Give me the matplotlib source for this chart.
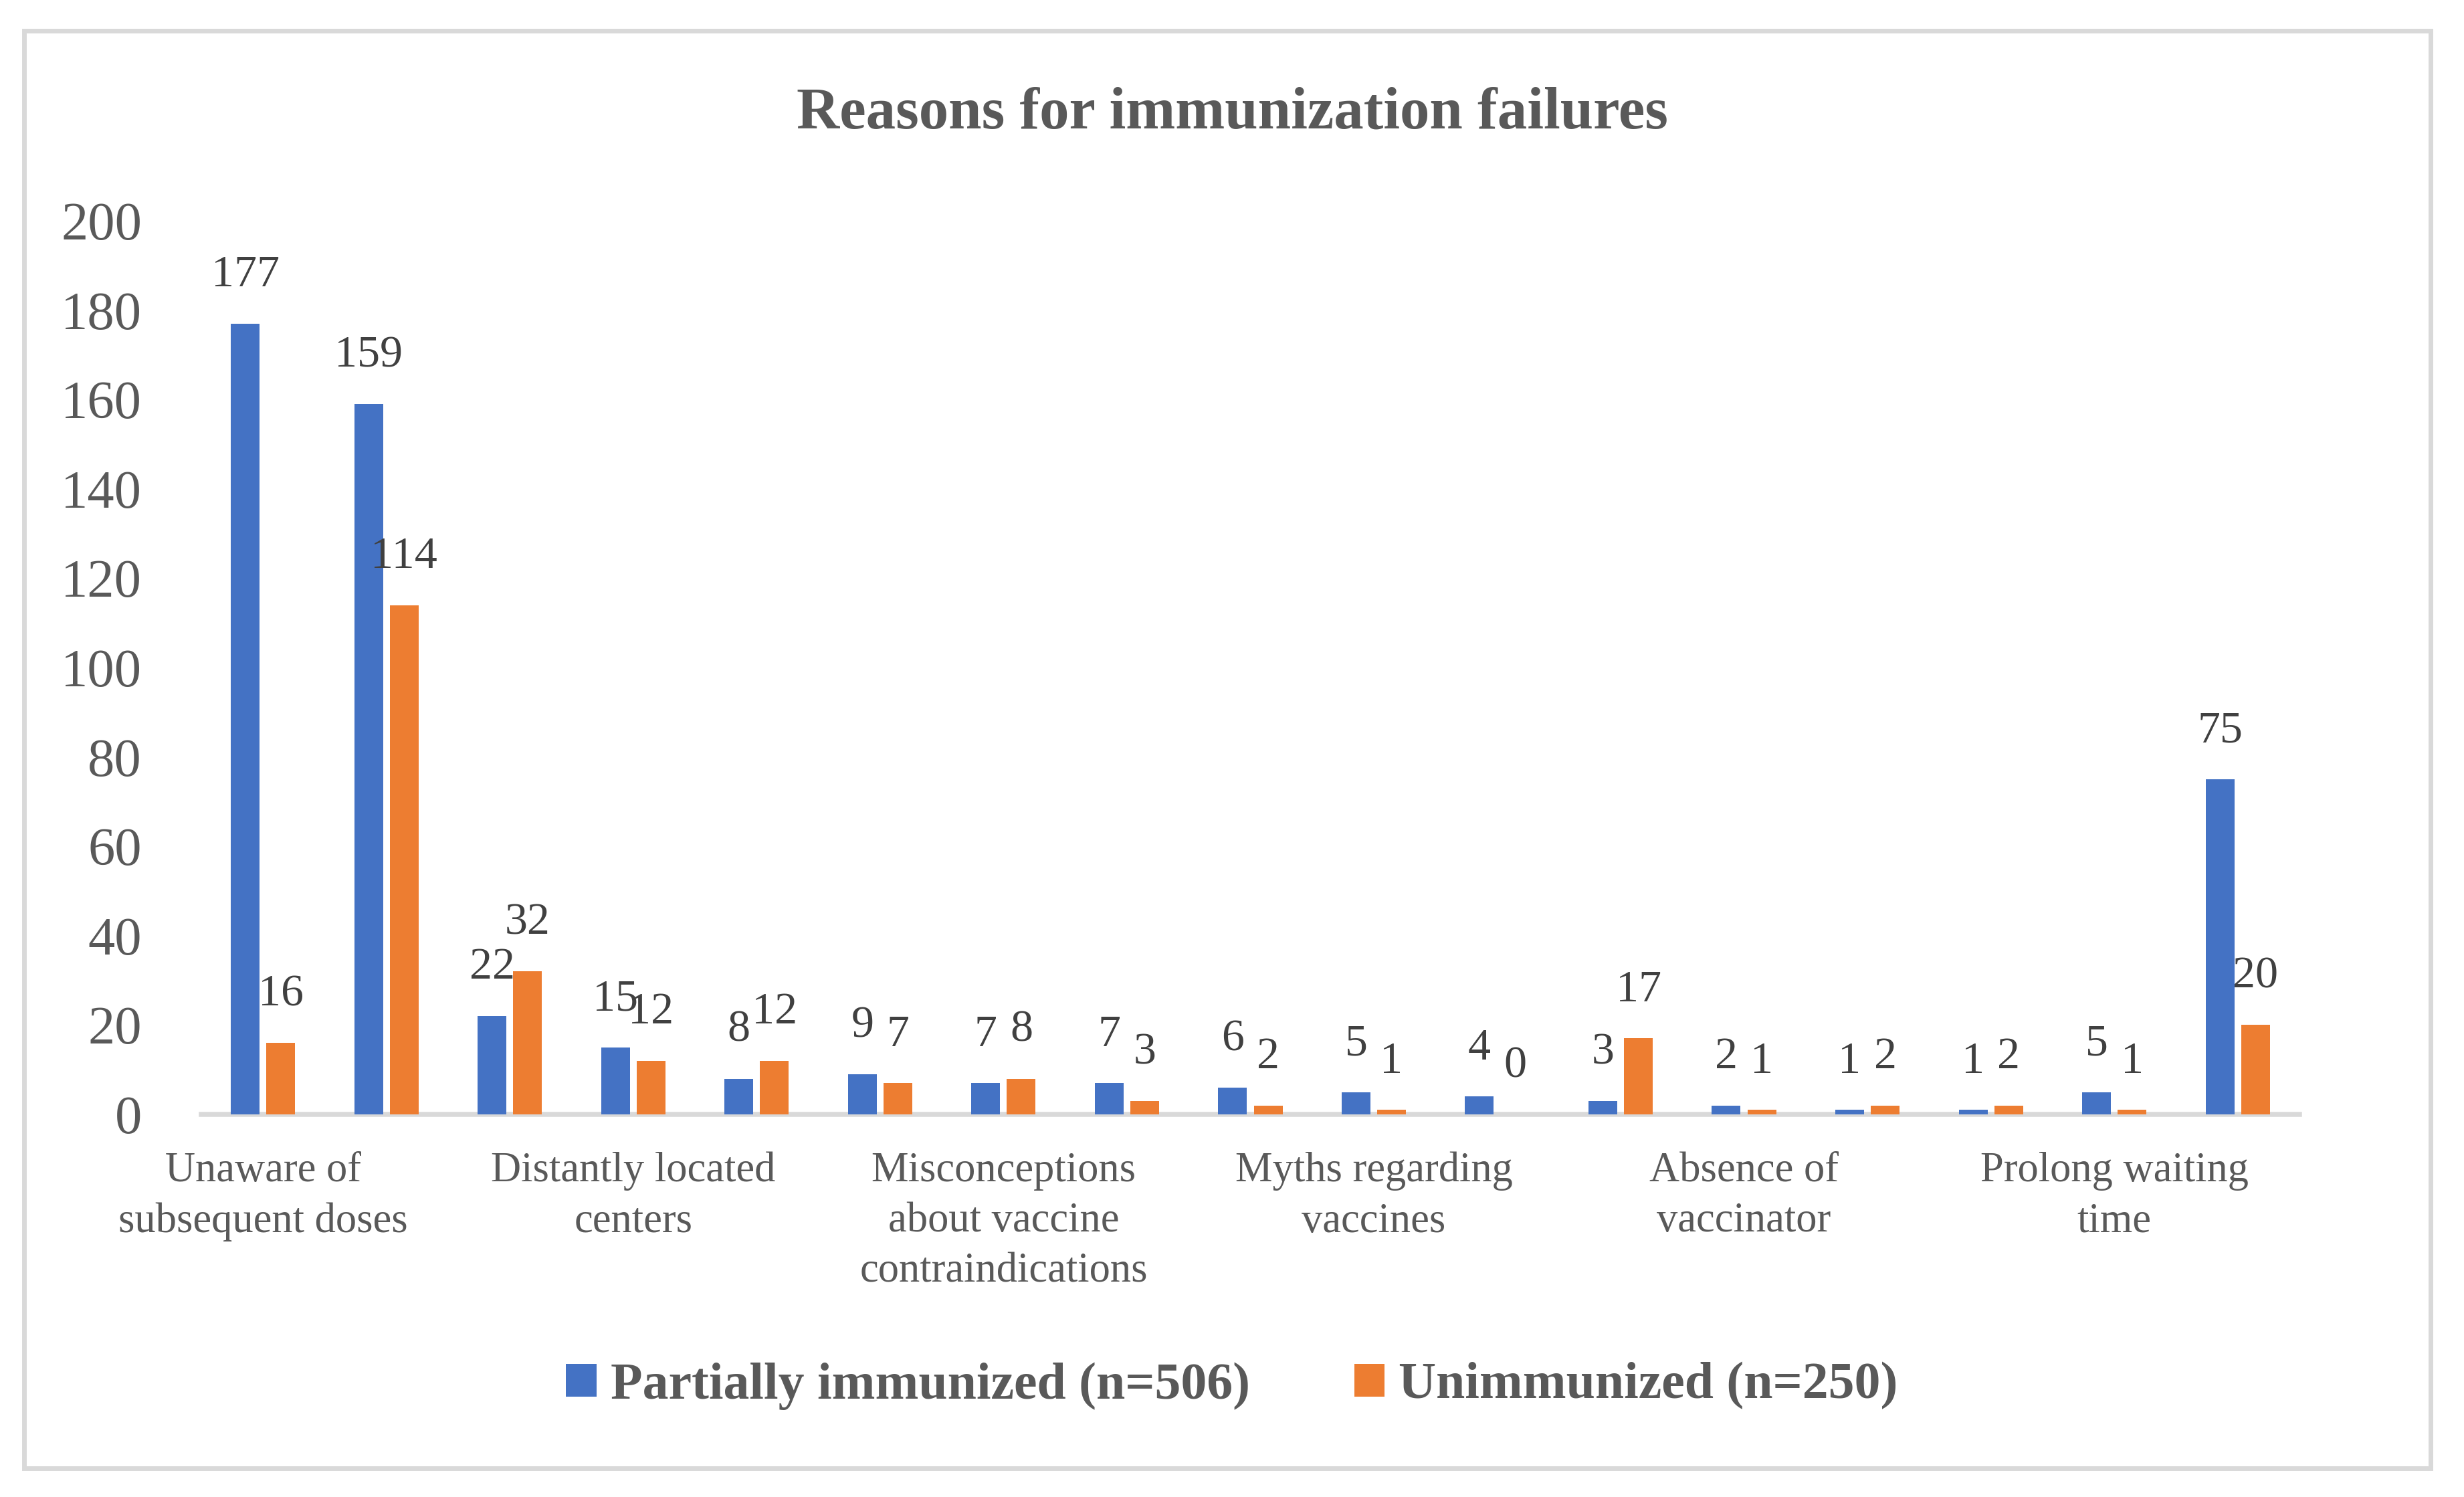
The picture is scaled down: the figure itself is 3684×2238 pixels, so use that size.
import matplotlib
matplotlib.use("Agg")
import matplotlib.pyplot as plt
from matplotlib.patches import Rectangle
import numpy as np

# data (only every third category label is shown)
categories = ["Unaware of\nsubsequent doses", "", "",
              "Distantly located\ncenters", "", "",
              "Misconceptions\nabout vaccine\ncontraindications", "", "",
              "Myths regarding\nvaccines", "", "",
              "Absence of\nvaccinator", "", "",
              "Prolong waiting\ntime", ""]
partially = [177, 159, 22, 15, 8, 9, 7, 7, 6, 5, 4, 3, 2, 1, 1, 5, 75]
unimmunized = [16, 114, 32, 12, 12, 7, 8, 3, 2, 1, 0, 17, 1, 2, 2, 1, 20]
series_names = ["Partially immunized (n=506)", "Unimmunized (n=250)"]
yticks = [0, 20, 40, 60, 80, 100, 120, 140, 160, 180, 200]

BLUE = "#4472C4"
ORANGE = "#ED7D31"
GREY_TXT = "#595959"
LABEL_TXT = "#404040"
LINE = "#D9D9D9"

plt.rcParams["font.family"] = ["Liberation Serif", "DejaVu Serif"]

fig = plt.figure(figsize=(36.84, 22.38), dpi=100)
ax = fig.add_axes([0.0817, 0.2556, 0.8515, 0.5969])

x = np.arange(len(partially))
w = 0.233
off = 0.144
b1 = ax.bar(x - off, partially, w, color=BLUE, label=series_names[0], zorder=3)
b2 = ax.bar(x + off, unimmunized, w, color=ORANGE, label=series_names[1], zorder=3)

# value labels above each bar
for xs, vals in ((x - off, partially), (x + off, unimmunized)):
    for xi, v in zip(xs, vals):
        ax.annotate(str(v), (xi, v), xytext=(0, 40), textcoords="offset points",
                    ha="center", va="baseline", fontsize=49, color=LABEL_TXT)

ax.set_xlim(-0.5, len(partially) - 0.5)
ax.set_ylim(0, 200)
ax.set_yticks(yticks)
ax.tick_params(axis="y", length=0, pad=64, labelsize=58, labelcolor=GREY_TXT)
ax.set_xticks(x)
ax.set_xticklabels(categories, fontsize=45, color=GREY_TXT, linespacing=1.4)
ax.tick_params(axis="x", length=0, pad=40)

for s in ["top", "right", "left"]:
    ax.spines[s].set_visible(False)
ax.spines["bottom"].set_color(LINE)
ax.spines["bottom"].set_linewidth(5.4)
ax.spines["bottom"].set_zorder(2)

fig.text(0.5, 1 - 170 / 2238, "Reasons for immunization failures", ha="center",
         va="center", fontsize=64, fontweight="bold", color=GREY_TXT)

leg = fig.legend(handles=[b1, b2], loc="center", bbox_to_anchor=(0.5, 0.0742),
                 ncol=2, frameon=False, handlelength=0.59, handleheight=0.59,
                 handletextpad=0.27, columnspacing=2.0,
                 prop={"size": 56, "weight": "bold"})
for t in leg.get_texts():
    t.set_color(GREY_TXT)

# chart area border
fig.patches.append(Rectangle((36 / 3684, 1 - 2195 / 2238), 3598 / 3684, 2149 / 2238,
                             transform=fig.transFigure, fill=False,
                             edgecolor=LINE, linewidth=5, zorder=0))

fig.savefig("out.png", dpi=100, facecolor="white")
